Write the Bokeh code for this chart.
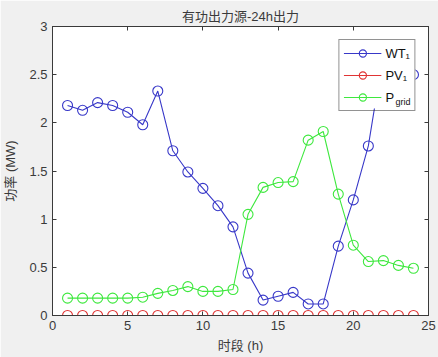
import numpy as np
from bokeh.plotting import figure
from bokeh.models import Range1d, LinearAxis, Legend, LegendItem, Label, FixedTicker, BoxAnnotation
from bokeh.embed import file_html
from bokeh.resources import INLINE

# ---- data ----
hours = list(range(1, 25))
wt = [2.18, 2.13, 2.21, 2.18, 2.11, 1.98, 2.33, 1.71, 1.49, 1.32, 1.14, 0.92,
      0.44, 0.16, 0.20, 0.24, 0.12, 0.12, 0.72, 1.20, 1.76, 2.72, 2.60, 2.50]
pv = [0.0] * 24
pgrid = [0.18, 0.18, 0.18, 0.18, 0.18, 0.19, 0.23, 0.26, 0.30, 0.25, 0.25, 0.27,
         1.05, 1.33, 1.38, 1.39, 1.82, 1.91, 1.26, 0.73, 0.56, 0.57, 0.52, 0.49]
x_ticks = [0, 5, 10, 15, 20, 25]
y_ticks = [0, 0.5, 1, 1.5, 2, 2.5, 3]
title_text = "有功出力源-24h出力"
xlabel = "时段 (h)"
ylabel = "功率 (MW)"

FONT = "Liberation Sans, Arial, Noto Sans CJK SC"
TXT = "#3a3a3a"
AX = "#3a3a3a"

p = figure(width=438, height=357, output_backend="svg", toolbar_location=None,
           x_range=Range1d(0, 25), y_range=Range1d(0, 3),
           min_border_left=51, min_border_right=10, min_border_top=26, min_border_bottom=42,
           background_fill_color="white", border_fill_color="#f0f0f0",
           title=title_text)
p.title.align = "center"
p.title.text_font = FONT
p.title.text_font_size = "13px"
p.title.text_font_style = "normal"
p.title.text_color = TXT
p.title.standoff = 6
p.title.offset = 0
p.xgrid.visible = False
p.ygrid.visible = False
p.outline_line_color = AX
p.outline_line_width = 1


def style_axis(ax, ticks, show_labels=True):
    ax.ticker = FixedTicker(ticks=ticks)
    ax.axis_line_color = AX
    ax.major_tick_line_color = AX
    ax.major_tick_in = 4
    ax.major_tick_out = 0
    ax.minor_tick_line_color = None
    ax.major_label_text_font = FONT
    ax.major_label_text_font_size = "13px"
    ax.major_label_text_color = TXT
    ax.axis_label_text_font = FONT
    ax.axis_label_text_font_size = "13px"
    ax.axis_label_text_font_style = "normal"
    ax.axis_label_text_color = TXT
    if not show_labels:
        ax.major_label_overrides = {t: "" for t in ticks}
        ax.major_label_standoff = 0


style_axis(p.xaxis[0], x_ticks)
style_axis(p.yaxis[0], y_ticks)
p.xaxis[0].axis_label = xlabel
p.yaxis[0].axis_label = ylabel
p.xaxis[0].major_label_standoff = 5
p.xaxis[0].axis_label_standoff = 5
p.yaxis[0].major_label_standoff = 5
p.yaxis[0].axis_label_standoff = 8

top_ax = LinearAxis()
style_axis(top_ax, x_ticks, show_labels=False)
p.add_layout(top_ax, "above")
right_ax = LinearAxis()
style_axis(right_ax, y_ticks, show_labels=False)
p.add_layout(right_ax, "right")

series = [("WT₁", wt, "#3838c8"), ("PV₁", pv, "#e03434"), ("P", pgrid, "#3ee83e")]
items = []
for name, ys, col in series:
    ln = p.line(hours, ys, line_color=col, line_width=1.1)
    sc = p.scatter(hours, ys, marker="circle", size=10, fill_color=None,
                   line_color=col, line_width=1.1)
    items.append(LegendItem(label=name, renderers=[ln, sc]))

# white backing under the (transparent) legend, so the subscript can sit on top of it
backing = BoxAnnotation(left=288, right=363, top=275, bottom=207,
                        left_units="screen", right_units="screen",
                        top_units="screen", bottom_units="screen",
                        fill_color="white", fill_alpha=1, line_color=None)
p.add_layout(backing)

# subscript of the legend label "P" (legend's third row), in screen units from frame
sub = Label(x=343, y=214, x_units="screen", y_units="screen", text="grid",
            text_font=FONT, text_font_size="9px", text_color="#111111",
            text_baseline="middle", text_align="left")
p.add_layout(sub)

legend = Legend(items=items, location="top_right", margin=13,
                border_line_color="#262626", border_line_width=1,
                background_fill_alpha=0,
                glyph_width=38, glyph_height=18, spacing=4, padding=4,
                label_standoff=4, label_text_font=FONT, label_text_font_size="13px",
                label_text_color="#111111", label_height=18)
p.add_layout(legend)

html = file_html(p, INLINE)
html = html.replace("<body>", '<body style="background-color:#f0f0f0;">', 1)
open("out.html", "w").write(html)
